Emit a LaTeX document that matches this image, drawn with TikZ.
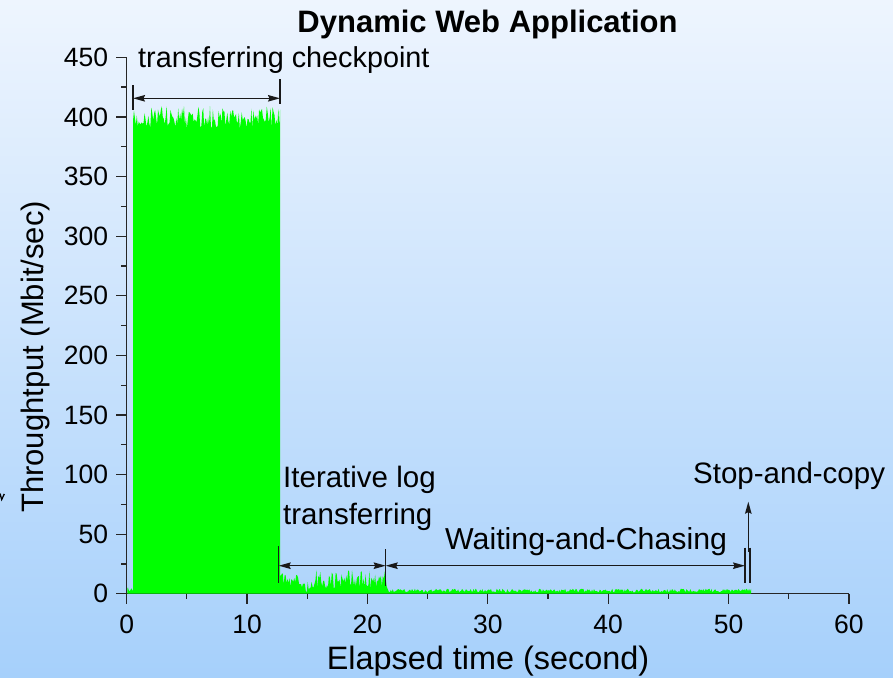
\documentclass[tikz,border=0pt]{standalone}
\usepackage{fontspec}
\setmainfont{Liberation Sans}
\usetikzlibrary{arrows.meta}
\definecolor{bgtop}{HTML}{EEF5FE}
\definecolor{bgbot}{HTML}{A6D0FB}
\definecolor{trace}{HTML}{00FF00}
\begin{document}
\begin{tikzpicture}[x=1pt,y=-1pt,
  ticklbl/.style={font=\fontsize{26.5}{30}\selectfont, inner sep=0},
  annot/.style={font=\fontsize{29.5}{34}\selectfont, inner sep=0},
  axislbl/.style={font=\fontsize{31}{36}\selectfont, inner sep=0},
  titlelbl/.style={font=\fontsize{31}{36}\selectfont\bfseries, inner sep=0},
  axisline/.style={line width=1.2pt, draw=black!85},
  bar/.style={line width=1.5pt, draw=black!90},
  dimarrow/.style={line width=1.3pt, draw=black!90,
    {Stealth[length=12pt,width=6.5pt,inset=1.5pt]}-{Stealth[length=12pt,width=6.5pt,inset=1.5pt]}},
  uparrow/.style={line width=1.3pt, draw=black!90,
    -{Stealth[length=12pt,width=6.5pt,inset=1.5pt]}},
]
% page and background
\useasboundingbox (0,0) rectangle (893,677);
\shade[top color=bgtop, bottom color=bgbot] (0,0) rectangle (893,677);

% clipped glyph fragment at the left edge
\draw[line width=1.3pt] (0,493.5) -- (1.7,499.5) -- (4.3,494);

% title
\node[titlelbl, anchor=base] (title) at (487.5,33) {Dynamic Web Application};

% plot area in data units (seconds, Mbit/sec)
\begin{scope}[shift={(126.7,593.7)}, x=12.037pt, y=1.192pt]
  \draw[axisline] (0,450) -- (0,0) -- (60,0);
  % throughput trace
  \pgfmathsetseed{2024}
  \fill[trace] (0.05,0) -- (0.05,4)
    \foreach \t in {0.1,0.2,...,0.5}{ -- (\t,{2+4*rnd}) }
    -- (0.53,3) -- (0.53,397)
    \foreach \t in {0.6,0.68,...,12.7}{ -- (\t,{390+19*rnd}) }
    -- (12.74,406) -- (12.74,16)
    \foreach \t in {12.8,12.88,...,14.4}{ -- (\t,{6+13*rnd}) }
    \foreach \t in {14.48,14.56,...,15.6}{ -- (\t,{1+9*rnd}) }
    \foreach \t in {15.68,15.76,...,21.4}{ -- (\t,{4+16*rnd}) }
    -- (21.45,19) -- (21.6,6)
    \foreach \t in {21.7,21.78,...,51.8}{ -- (\t,{1+3.2*rnd}) }
    -- (51.87,4) -- (51.87,0) -- cycle;
  % y ticks and labels
  \foreach \v in {0,50,...,450}{
    \draw[axisline] (0,\v) -- ++(-10.5pt,0pt);
    \node[ticklbl, anchor=east] (ytick\v) at ([xshift=-18.5pt]0,\v) {\v};
  }
  \foreach \v in {25,75,...,425}{
    \draw[axisline] (0,\v) -- ++(-5.5pt,0pt);
  }
  % x ticks and labels
  \foreach \t in {0,10,...,60}{
    \draw[axisline] (\t,0) -- ++(0pt,-10pt);
    \node[ticklbl, anchor=base] (xtick\t) at ([yshift=-39.3pt]\t,0) {\t};
  }
  \foreach \t in {5,15,...,55}{
    \draw[axisline] (\t,0) -- ++(0pt,-5pt);
  }
\end{scope}

% axis labels
\node[axislbl, font=\fontsize{32.4}{36}\selectfont, anchor=base] (xlabel) at (488,669) {Elapsed time (second)};
\node[axislbl, anchor=base, rotate=90] (ylabel) at (43.5,357) {Throughtput (Mbit/sec)};

% phase: transferring checkpoint
\node[annot, font=\fontsize{28.8}{34}\selectfont, anchor=base west] (ckpt) at (138,67) {transferring checkpoint};
\coordinate (ckAt) at (133,85);  \coordinate (ckAb) at (133,110);
\coordinate (ckBt) at (280,79);  \coordinate (ckBb) at (280,104);
\coordinate (ckA) at (133,98.3); \coordinate (ckB) at (280,98.3);
\draw[bar] (ckAt) -- (ckAb);
\draw[bar] (ckBt) -- (ckBb);
\draw[dimarrow] (ckA) -- (ckB);

% phase: iterative log transferring
\node[annot, anchor=base west] (iter1) at (283,487) {Iterative log};
\node[annot, anchor=base west] (iter2) at (283,524) {transferring};
\coordinate (itAt) at (278.7,546); \coordinate (itAb) at (278.7,583);
\coordinate (itBt) at (385.7,549); \coordinate (itBb) at (385.7,586);
\coordinate (itA) at (278.7,565.7); \coordinate (itB) at (385.7,565.7);
\draw[bar] (itAt) -- (itAb);
\draw[bar] (itBt) -- (itBb);
\draw[dimarrow] (itA) -- (itB);

% phase: waiting-and-chasing
\node[annot, font=\fontsize{30.3}{34}\selectfont, anchor=base west] (wait) at (445,549) {Waiting-and-Chasing};
\coordinate (wtB) at (745,565.7);
\coordinate (wtBt) at (745,547.7); \coordinate (wtBb) at (745,583);
\draw[bar] (wtBt) -- (wtBb);
\draw[dimarrow] (itB) -- (wtB);

% phase: stop-and-copy
\node[annot, anchor=base west] (stop) at (693,483) {Stop-and-copy};
\coordinate (scBt) at (750,547.7); \coordinate (scBb) at (750,583);
\draw[bar] (scBt) -- (scBb);
\coordinate (scFoot) at (748.3,551.7); \coordinate (scTip) at (748.3,501.7);
\draw[uparrow] (scFoot) -- (scTip);
\end{tikzpicture}
\end{document}
